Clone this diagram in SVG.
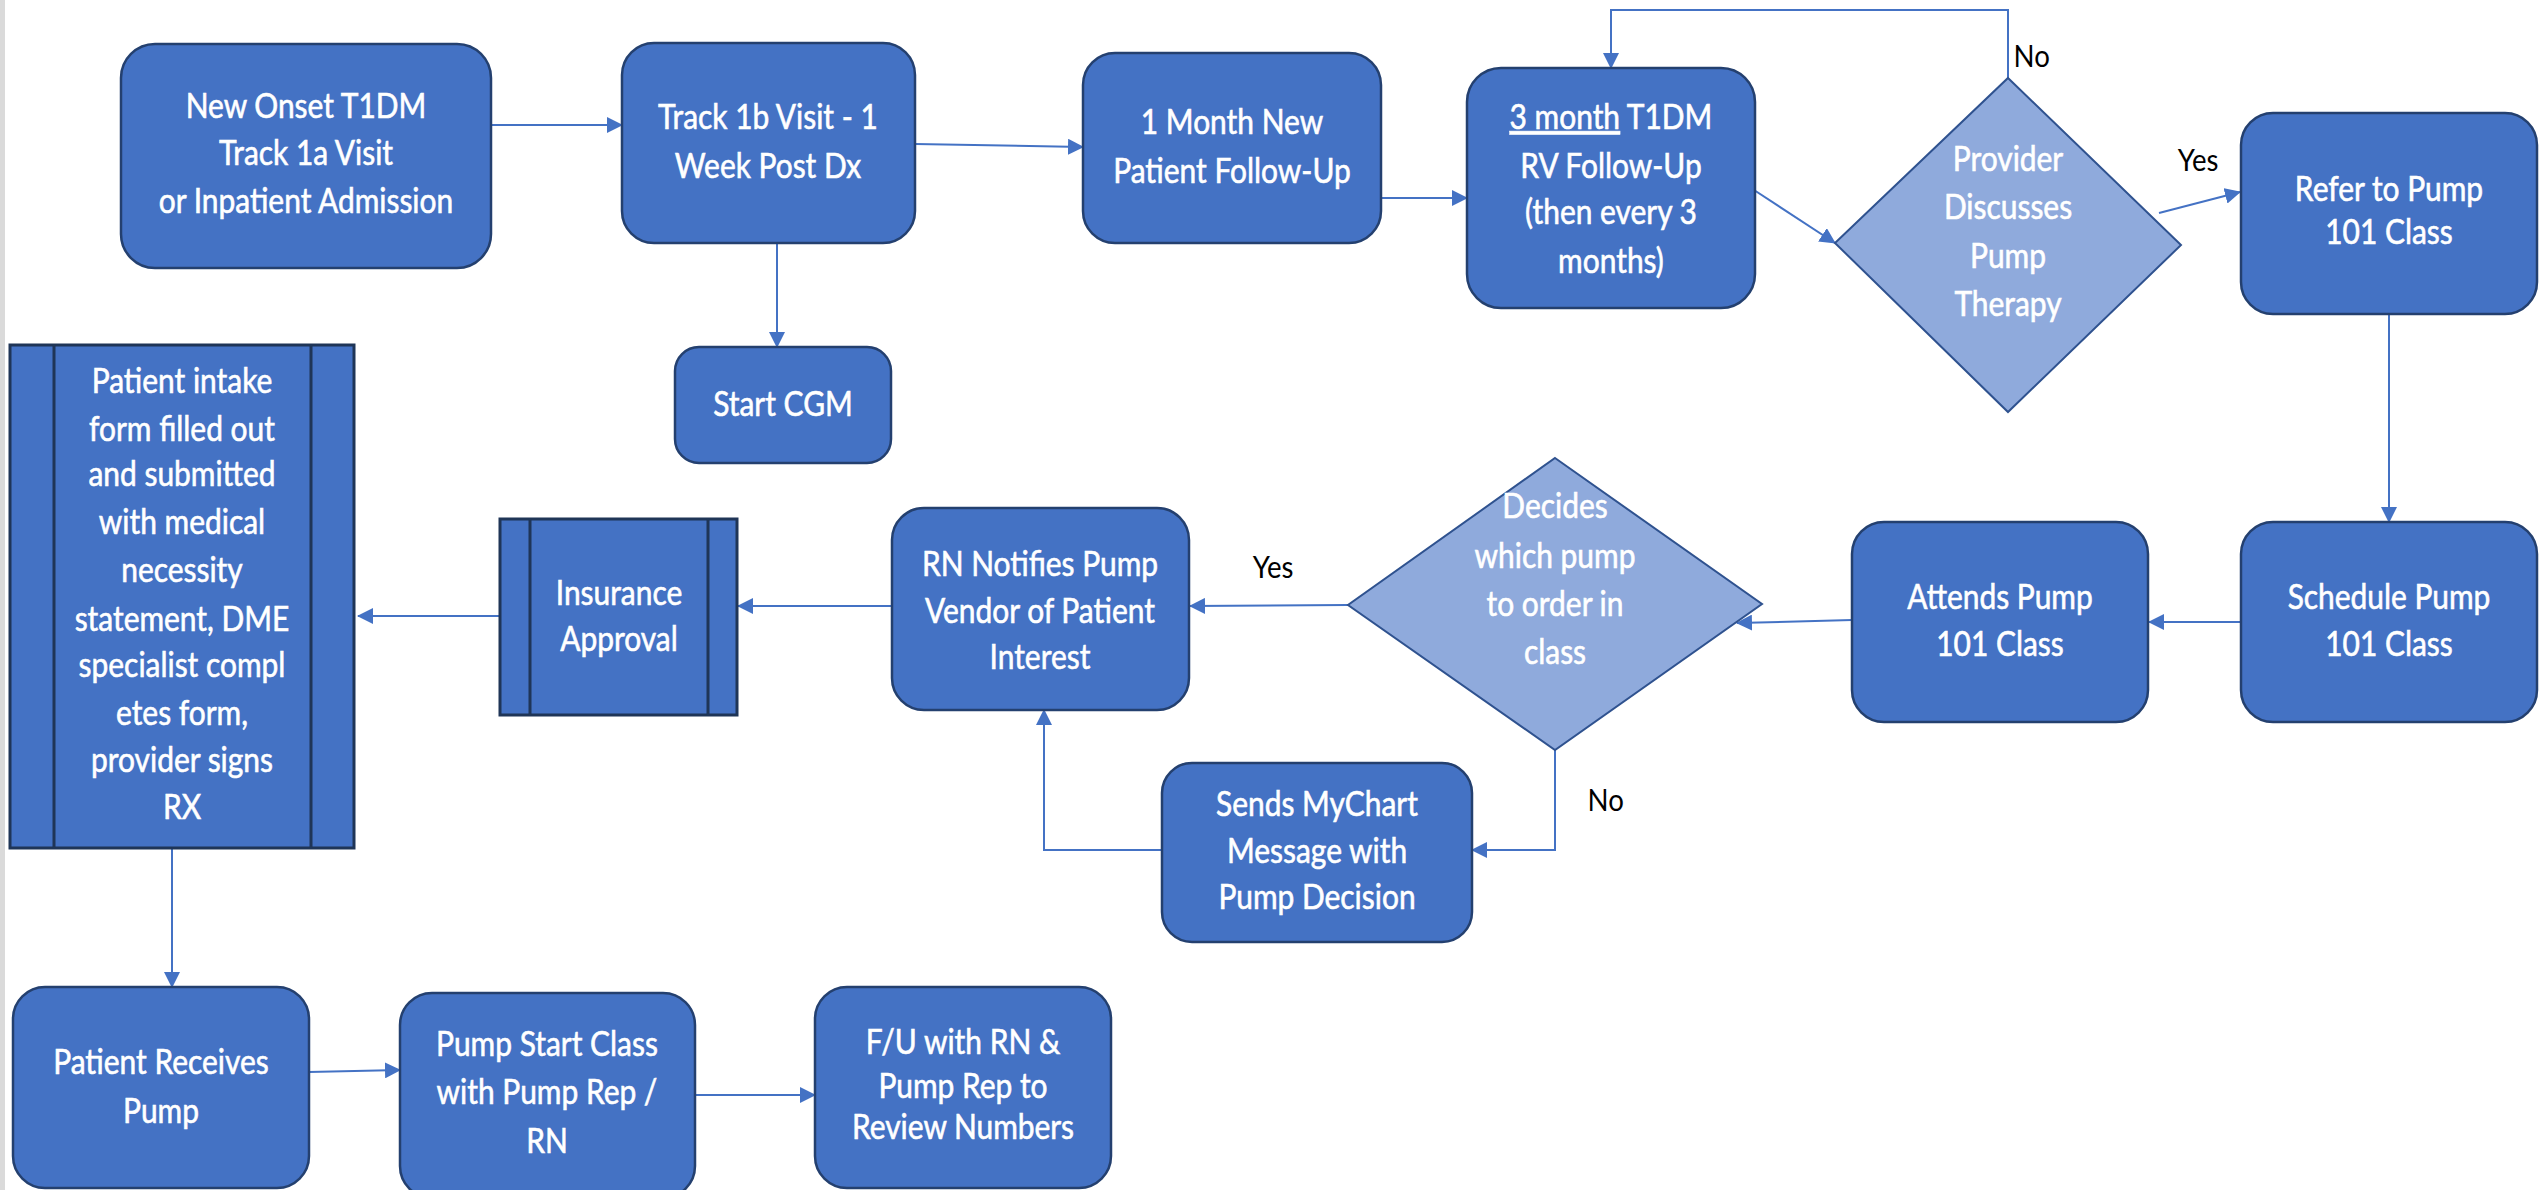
<svg xmlns="http://www.w3.org/2000/svg" width="2539" height="1190" viewBox="0 0 2539 1190">
  <style>
    .box { fill: #4472C4; stroke: #24406F; stroke-width: 2.5; }
    .dia { fill: #8FAADC; stroke: #2F528F; stroke-width: 2; }
    .proc { fill: #4472C4; stroke: #1F3557; stroke-width: 3; }
    .bar { fill: none; stroke: #1F3557; stroke-width: 3; }
    .t { font-family: Lato, "Liberation Sans", sans-serif; font-size: 34px; fill: #FFFFFF; stroke: #FFFFFF; stroke-width: 0.6; text-anchor: middle;
         transform-box: fill-box; transform-origin: center; transform: scaleX(0.88); }
    .lbl { font-family: Lato, "Liberation Sans", sans-serif; font-size: 30px; fill: #000000;
           transform-box: fill-box; transform-origin: center; transform: scaleX(0.92); }
    .edge { fill: none; stroke: #4472C4; stroke-width: 2; }
  </style>
  <defs>
    <marker id="arrow" markerUnits="userSpaceOnUse" markerWidth="16" markerHeight="16" refX="15" refY="8" orient="auto">
      <path d="M0,0 L16,8 L0,16 Z" fill="#4472C4"/>
    </marker>
  </defs>

  <rect x="0" y="0" width="2539" height="1190" fill="#FFFFFF"/>
  <rect x="0" y="0" width="5" height="1190" fill="#DADADA"/>

  <!-- connectors -->
  <g id="connectors">
    <path class="edge" d="M491,125 L622,125" marker-end="url(#arrow)"/>
    <path class="edge" d="M915,144 L1083,147" marker-end="url(#arrow)"/>
    <path class="edge" d="M777,243 L777,347" marker-end="url(#arrow)"/>
    <path class="edge" d="M1381,198 L1467,198" marker-end="url(#arrow)"/>
    <path class="edge" d="M1754,190 L1835,243" marker-end="url(#arrow)"/>
    <path class="edge" d="M2008,78 L2008,10 L1611,10 L1611,68" marker-end="url(#arrow)"/>
    <path class="edge" d="M2159,213 L2240,192" marker-end="url(#arrow)"/>
    <path class="edge" d="M2389,313 L2389,522" marker-end="url(#arrow)"/>
    <path class="edge" d="M2241,622 L2149,622" marker-end="url(#arrow)"/>
    <path class="edge" d="M1852,620 L1737,623" marker-end="url(#arrow)"/>
    <path class="edge" d="M1348,605 L1190,606" marker-end="url(#arrow)"/>
    <path class="edge" d="M1555,750 L1555,850 L1472,850" marker-end="url(#arrow)"/>
    <path class="edge" d="M1162,850 L1044,850 L1044,710" marker-end="url(#arrow)"/>
    <path class="edge" d="M892,606 L738,606" marker-end="url(#arrow)"/>
    <path class="edge" d="M500,616 L358,616" marker-end="url(#arrow)"/>
    <path class="edge" d="M172,848 L172,987" marker-end="url(#arrow)"/>
    <path class="edge" d="M309,1072 L400,1070" marker-end="url(#arrow)"/>
    <path class="edge" d="M695,1095 L815,1095" marker-end="url(#arrow)"/>
  </g>

  <!-- edge labels -->
  <g id="labels">
    <text class="lbl" x="2012" y="67">No</text>
    <text class="lbl" x="2176" y="171">Yes</text>
    <text class="lbl" x="1251" y="578">Yes</text>
    <text class="lbl" x="1586" y="811">No</text>
  </g>

  <g id="new-onset">
    <rect class="box" x="121" y="44" width="370" height="224" rx="34"/>
    <text class="t"><tspan x="306" y="118">New Onset T1DM</tspan><tspan x="306" y="165">Track 1a Visit</tspan><tspan x="306" y="213">or Inpatient Admission</tspan></text>
  </g>

  <g id="track-1b">
    <rect class="box" x="622" y="43" width="293" height="200" rx="32"/>
    <text class="t"><tspan x="768" y="129">Track 1b Visit - 1</tspan><tspan x="768" y="178">Week Post Dx</tspan></text>
  </g>

  <g id="start-cgm">
    <rect class="box" x="675" y="347" width="216" height="116" rx="24"/>
    <text class="t" x="783" y="416">Start CGM</text>
  </g>

  <g id="one-month">
    <rect class="box" x="1083" y="53" width="298" height="190" rx="32"/>
    <text class="t"><tspan x="1232" y="134">1 Month New</tspan><tspan x="1232" y="183">Patient Follow-Up</tspan></text>
  </g>

  <g id="three-month">
    <rect class="box" x="1467" y="68" width="288" height="240" rx="34"/>
    <text class="t"><tspan x="1611" y="129"><tspan text-decoration="underline">3 month</tspan> T1DM</tspan><tspan x="1611" y="178">RV Follow-Up</tspan><tspan x="1611" y="224">(then every 3</tspan><tspan x="1611" y="273">months)</tspan></text>
  </g>

  <g id="provider-discusses">
    <polygon class="dia" points="2008,78 2181,245 2008,412 1835,243"/>
    <text class="t"><tspan x="2008" y="171">Provider</tspan><tspan x="2008" y="219">Discusses</tspan><tspan x="2008" y="268">Pump</tspan><tspan x="2008" y="316">Therapy</tspan></text>
  </g>

  <g id="refer">
    <rect class="box" x="2241" y="113" width="296" height="201" rx="32"/>
    <text class="t"><tspan x="2389" y="201">Refer to Pump</tspan><tspan x="2389" y="244">101 Class</tspan></text>
  </g>

  <g id="schedule">
    <rect class="box" x="2241" y="522" width="296" height="200" rx="32"/>
    <text class="t"><tspan x="2389" y="609">Schedule Pump</tspan><tspan x="2389" y="656">101 Class</tspan></text>
  </g>

  <g id="attends">
    <rect class="box" x="1852" y="522" width="296" height="200" rx="32"/>
    <text class="t"><tspan x="2000" y="609">Attends Pump</tspan><tspan x="2000" y="656">101 Class</tspan></text>
  </g>

  <g id="decides">
    <polygon class="dia" points="1555,458 1762,604 1555,750 1348,605"/>
    <text class="t"><tspan x="1555" y="518">Decides</tspan><tspan x="1555" y="568">which pump</tspan><tspan x="1555" y="616">to order in</tspan><tspan x="1555" y="664">class</tspan></text>
  </g>

  <g id="rn-notifies">
    <rect class="box" x="892" y="508" width="297" height="202" rx="32"/>
    <text class="t"><tspan x="1040" y="576">RN Notifies Pump</tspan><tspan x="1040" y="623">Vendor of Patient</tspan><tspan x="1040" y="669">Interest</tspan></text>
  </g>

  <g id="sends-mychart">
    <rect class="box" x="1162" y="763" width="310" height="179" rx="30"/>
    <text class="t"><tspan x="1317" y="816">Sends MyChart</tspan><tspan x="1317" y="863">Message with</tspan><tspan x="1317" y="909">Pump Decision</tspan></text>
  </g>

  <g id="insurance">
    <rect class="proc" x="500" y="519" width="237" height="196"/>
    <line class="bar" x1="530" y1="519" x2="530" y2="715"/>
    <line class="bar" x1="708" y1="519" x2="708" y2="715"/>
    <text class="t"><tspan x="619" y="605">Insurance</tspan><tspan x="619" y="651">Approval</tspan></text>
  </g>

  <g id="intake">
    <rect class="proc" x="10" y="345" width="344" height="503"/>
    <line class="bar" x1="54" y1="345" x2="54" y2="848"/>
    <line class="bar" x1="311" y1="345" x2="311" y2="848"/>
    <text class="t"><tspan x="182" y="393">Patient intake</tspan><tspan x="182" y="441">form filled out</tspan><tspan x="182" y="486">and submitted</tspan><tspan x="182" y="534">with medical</tspan><tspan x="182" y="582">necessity</tspan><tspan x="182" y="631">statement, DME</tspan><tspan x="182" y="677">specialist compl</tspan><tspan x="182" y="725">etes form,</tspan><tspan x="182" y="772">provider signs</tspan><tspan x="182" y="819">RX</tspan></text>
  </g>

  <g id="patient-receives">
    <rect class="box" x="13" y="987" width="296" height="201" rx="32"/>
    <text class="t"><tspan x="161" y="1074">Patient Receives</tspan><tspan x="161" y="1123">Pump</tspan></text>
  </g>

  <g id="pump-start">
    <rect class="box" x="400" y="993" width="295" height="205" rx="32"/>
    <text class="t"><tspan x="547" y="1056">Pump Start Class</tspan><tspan x="547" y="1104">with Pump Rep /</tspan><tspan x="547" y="1153">RN</tspan></text>
  </g>

  <g id="follow-up">
    <rect class="box" x="815" y="987" width="296" height="201" rx="32"/>
    <text class="t"><tspan x="963" y="1054">F/U with RN &amp;</tspan><tspan x="963" y="1098">Pump Rep to</tspan><tspan x="963" y="1139">Review Numbers</tspan></text>
  </g>
</svg>
